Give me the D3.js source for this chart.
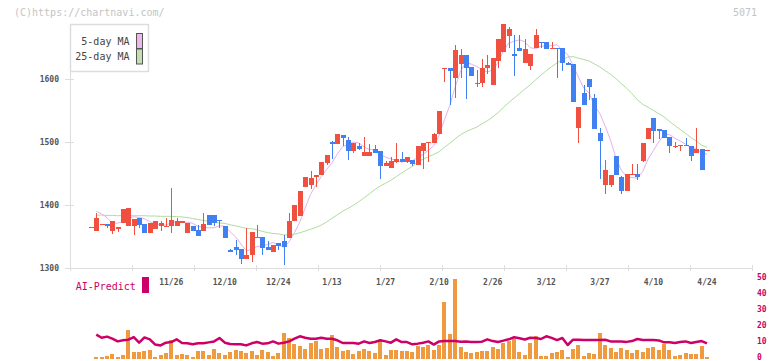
<!DOCTYPE html>
<html><head><meta charset="utf-8">
<script src="https://cdn.jsdelivr.net/npm/d3@7"></script>
<style>
body{margin:0;background:#fff}
svg{display:block}
text{font-family:"DejaVu Sans Mono","Liberation Mono",monospace}
</style>
</head><body>
<svg id="chart" width="772" height="361"></svg>
<script>
// ---------------- data ----------------
const dateLabels = ["11/26","12/10","12/24","1/13","1/27","2/10","2/26","3/12","3/27","4/10","4/24"];
const dateLabelIdx = [15,25,35,45,55,65,75,85,95,105,115];
const priceTicks = [1300,1400,1500,1600];
const volTicks = [0,10,20,30,40,50];

const open = [1365,1359,1370,1370,1359,1362,1372,1367,1367,1380,1370,1355,1362,1366,1365,1366,1366,1372,1356,1367,
1360,1359,1384,1384,1376,1367,1328,1333,1330,1315,1320,1347,1350,1334,1326,1340,1343,1348,1374,1383,
1429,1432,1445,1447,1467,1500,1497,1511,1503,1485,1494,1478,1478,1489,1485,1462,1459,1468,1473,1468,
1471,1464,1486,1499,1499,1512,1617,1618,1602,1624,1638,1619,1593,1593,1618,1590,1629,1643,1669,1640,
1650,1626,1620,1649,1659,1659,1647,1650,1649,1626,1624,1523,1578,1600,1570,1514,1432,1432,1478,1445,
1423,1449,1449,1470,1504,1538,1521,1519,1508,1493,1494,1496,1494,1483,1489,1487];
const high = [1365,1387,1370,1370,1375,1365,1394,1395,1378,1380,1370,1371,1375,1375,1379,1427,1379,1375,1371,1367,
1368,1388,1384,1384,1376,1367,1330,1345,1330,1364,1357,1368,1350,1343,1337,1340,1352,1387,1400,1422,
1445,1454,1448,1468,1479,1502,1513,1511,1508,1498,1499,1508,1497,1495,1485,1470,1476,1498,1484,1476,
1471,1494,1499,1500,1515,1549,1618,1618,1654,1648,1638,1619,1615,1632,1638,1634,1663,1687,1682,1670,
1670,1664,1640,1679,1659,1659,1659,1650,1649,1627,1624,1556,1590,1600,1576,1522,1472,1448,1478,1446,
1449,1465,1465,1499,1522,1538,1521,1519,1508,1500,1495,1506,1494,1523,1489,1487];
const low = [1365,1359,1370,1364,1354,1357,1372,1367,1352,1364,1355,1355,1362,1359,1365,1355,1366,1372,1356,1359,
1351,1359,1368,1367,1363,1348,1325,1321,1307,1315,1310,1347,1321,1328,1326,1329,1304,1348,1374,1383,
1429,1425,1429,1447,1463,1473,1497,1494,1471,1483,1487,1478,1478,1483,1441,1462,1459,1467,1468,1467,
1462,1464,1457,1469,1499,1512,1596,1559,1570,1602,1569,1604,1588,1588,1608,1590,1618,1643,1649,1604,
1645,1626,1614,1649,1650,1647,1647,1602,1613,1622,1564,1499,1559,1566,1521,1442,1418,1429,1448,1417,
1423,1449,1440,1468,1504,1499,1504,1507,1482,1491,1485,1495,1470,1483,1456,1487];
const close = [1365,1380,1370,1366,1375,1365,1394,1395,1378,1369,1355,1371,1375,1372,1367,1376,1375,1374,1371,1359,
1351,1370,1368,1372,1374,1348,1325,1329,1315,1321,1357,1349,1332,1328,1337,1335,1334,1375,1400,1422,
1445,1443,1448,1468,1479,1497,1513,1507,1485,1498,1489,1484,1484,1483,1462,1467,1470,1473,1468,1476,
1465,1494,1499,1500,1512,1549,1618,1612,1646,1638,1618,1604,1594,1618,1622,1634,1663,1687,1679,1637,
1645,1648,1640,1670,1657,1648,1650,1647,1625,1623,1564,1556,1559,1588,1521,1501,1456,1448,1448,1423,
1449,1450,1444,1499,1522,1518,1518,1507,1493,1494,1495,1495,1477,1489,1456,1487];

const volume = [0,1.25,1.25,1.9,2.9,1.25,2.5,18.1,4.4,4.4,5,5.6,1.25,2.5,3.75,11.9,2.5,3.1,2.5,1.25,
5,5,2.5,6.25,3.75,2.5,4.4,5.6,5,3.75,5,2.5,5.6,4.4,1.9,3.75,16.25,13.1,9.4,8.1,
6.25,10,11.25,6.25,6.9,15,7.5,5,5.6,3.1,5,6.25,5,3.75,11.9,2.5,5.6,5.6,5,5,
4.4,8.1,7.5,8.75,5.6,8.75,35.5,15.6,50,7.5,4.4,3.75,4.4,5,5,7.5,6,10,11,12.7,
4.4,2.5,10,14.4,1.9,1.9,3.75,4.4,5.6,1.25,6.25,8.75,1.9,3.75,3.1,16.25,8.9,6.9,4.4,6.9,
5.6,3.75,5.6,4.4,6.9,7.5,5.6,9.4,5.6,1.9,2.5,3.5,2.9,2.9,8.1,1.25];

const aiPredict = [null,15.2,13.3,14,12.7,11,11.7,12.1,13.7,10.2,13.5,12.3,9,8.5,10.2,10.6,12.3,10,9.8,9.2,
9.8,9.8,10.4,11,13.1,10.2,9.4,9.2,9.2,8.5,9.8,10.6,9.6,9.8,11,9.6,10.2,11,12.7,14.2,
13.3,12.7,12.7,13.3,12.7,12.7,11.7,10,10,10,9.6,11,10,10.6,11.7,11,10.2,12.3,10.6,10.6,
9.2,9.6,10.2,11,9,11,11.25,11.25,11.25,10.8,11,10.6,10.6,10.8,12.3,11.2,10.6,11.5,12.3,13.6,
13,12.2,13.3,13.2,12.5,14.2,13.2,11.8,13.1,8.75,12.1,12,11.9,11.9,11.9,11.9,12,11,11,11,
10.7,11.2,12.5,11.9,11.8,11.8,11.6,10.4,10.4,10,10.6,11,10,10.6,11.2,9.7];

const ma5Head = [null,1390,1386,1380];
const ma25Head = [null,1384,1384,1383.5,1383.5,1383,1383,1383,1383,1383,1383,1382.5,1382.5,1382,1382,1382,1381.5,1381,1380,1378.5,1377,1375.5,1374,1372.5];

// ---------------- chart ----------------
const svg = d3.select("#chart");
const RED = "#f05040", BLUE = "#4080f0", AXIS = "#dddddd", LBL = "#555555", MAG = "#cc0066";

function movingAvg(n, head) {
  return close.map((c, i) => i < head.length ? head[i] : d3.mean(close.slice(i - n + 1, i + 1)));
}
const ma5 = movingAvg(5, ma5Head);
const ma25 = movingAvg(25, ma25Head);

const x = d3.scaleLinear().domain([0, close.length - 1]).range([90.9, 707]);
const y = d3.scaleLinear().domain([1300, 1600]).range([268, 79]);
const yv = d3.scaleLinear().domain([0, 50]).range([359, 279]);
const gridX = d3.scaleLinear().domain([0, 11]).range([70, 752]);

// header texts
svg.append("text").attr("x", 14).attr("y", 12).attr("dominant-baseline", "central")
  .attr("font-size", 10).attr("fill", "#c4c4c4").text("(C)https://chartnavi.com/");
svg.append("text").attr("x", 757).attr("y", 12).attr("dominant-baseline", "central").attr("text-anchor", "end")
  .attr("font-size", 10).attr("fill", "#c4c4c4").text("5071");

// axes
const ax = svg.append("g").attr("shape-rendering", "crispEdges").attr("stroke", AXIS).attr("stroke-width", 1);
ax.append("line").attr("x1", 70.5).attr("x2", 70.5).attr("y1", 24).attr("y2", 270);
ax.append("line").attr("x1", 65).attr("x2", 752).attr("y1", 268.5).attr("y2", 268.5);
ax.selectAll(".yt").data(priceTicks).join("line")
  .attr("x1", 65).attr("x2", 74).attr("y1", d => Math.round(y(d)) + 0.5).attr("y2", d => Math.round(y(d)) + 0.5);
ax.selectAll(".xt").data(d3.range(12)).join("line")
  .attr("x1", d => Math.round(gridX(d)) + 0.5).attr("x2", d => Math.round(gridX(d)) + 0.5)
  .attr("y1", 265).attr("y2", 271);

svg.selectAll(".ylab").data(priceTicks).join("text")
  .attr("x", 59).attr("y", d => y(d)).attr("text-anchor", "end").attr("dominant-baseline", "central")
  .attr("font-size", 8).attr("font-weight", "bold").attr("fill", LBL).text(d => d);

svg.selectAll(".xlab").data(dateLabels).join("text")
  .attr("x", (d, k) => x(dateLabelIdx[k])).attr("y", 282.5).attr("text-anchor", "middle")
  .attr("dominant-baseline", "central").attr("font-size", 8).attr("font-weight", "bold").attr("fill", LBL).text(d => d);

// moving averages
const maLine = d3.line().defined(d => d[1] != null).x(d => x(d[0])).y(d => y(d[1]));
svg.append("path").datum(ma25.map((v, i) => [i, v])).attr("d", maLine)
  .attr("fill", "none").attr("stroke", "#b0dca0").attr("stroke-width", 1);
svg.append("path").datum(ma5.map((v, i) => [i, v])).attr("d", maLine)
  .attr("fill", "none").attr("stroke", "#e8b0e8").attr("stroke-width", 1);

// candles
const idx = d3.range(close.length);
const cg = svg.append("g").attr("shape-rendering", "crispEdges");
cg.selectAll(".wick").data(idx).join("line")
  .attr("x1", i => Math.round(x(i)) + 0.5).attr("x2", i => Math.round(x(i)) + 0.5)
  .attr("y1", i => y(high[i])).attr("y2", i => y(low[i]))
  .attr("stroke", i => close[i] >= open[i] ? RED : BLUE).attr("stroke-width", 1);
cg.selectAll(".body").data(idx).join("rect")
  .attr("x", i => Math.round(x(i)) - 2).attr("width", 5)
  .attr("y", i => y(Math.max(open[i], close[i])))
  .attr("height", i => Math.max(1, y(Math.min(open[i], close[i])) - y(Math.max(open[i], close[i]))))
  .attr("fill", i => close[i] >= open[i] ? RED : BLUE);

// legend
const lg = svg.append("g");
lg.append("rect").attr("x", 70.5).attr("y", 24.5).attr("width", 78).attr("height", 47)
  .attr("fill", "#fff").attr("stroke", "#dddddd").attr("stroke-width", 1.5);
const legendItems = [["5-day MA", "#ecb8ec", 41], ["25-day MA", "#c0e0b4", 56.5]];
legendItems.forEach(([t, c, cy]) => {
  lg.append("text").attr("x", 129.5).attr("y", cy).attr("text-anchor", "end").attr("dominant-baseline", "central")
    .attr("font-size", 10).attr("fill", "#444").text(t);
  lg.append("rect").attr("x", 136.5).attr("y", cy - 7.5).attr("width", 6).attr("height", 15)
    .attr("fill", c).attr("stroke", "#555").attr("stroke-width", 1);
});

// AI-Predict panel
svg.append("text").attr("x", 75.7).attr("y", 286).attr("dominant-baseline", "central")
  .attr("font-size", 10).attr("fill", MAG).text("AI-Predict");
svg.append("rect").attr("x", 142).attr("y", 277).attr("width", 7).attr("height", 16).attr("fill", MAG);

svg.selectAll(".vlab").data(volTicks).join("text")
  .attr("x", 757).attr("y", d => yv(d) - 2).attr("dominant-baseline", "central")
  .attr("font-size", 8).attr("font-weight", "bold").attr("fill", MAG).text(d => d);

svg.append("g").attr("shape-rendering", "crispEdges").selectAll("rect").data(idx.filter(i => volume[i] > 0)).join("rect")
  .attr("x", i => Math.round(x(i)) - 2).attr("width", 4)
  .attr("y", i => yv(volume[i])).attr("height", i => yv(0) - yv(volume[i]))
  .attr("fill", "#f09a40");

const aiLine = d3.line().defined(d => d[1] != null).x(d => x(d[0])).y(d => yv(d[1]));
svg.append("path").datum(aiPredict.map((v, i) => [i, v])).attr("d", aiLine)
  .attr("fill", "none").attr("stroke", MAG).attr("stroke-width", 2.5).attr("stroke-linejoin", "round");
</script>
</body></html>
